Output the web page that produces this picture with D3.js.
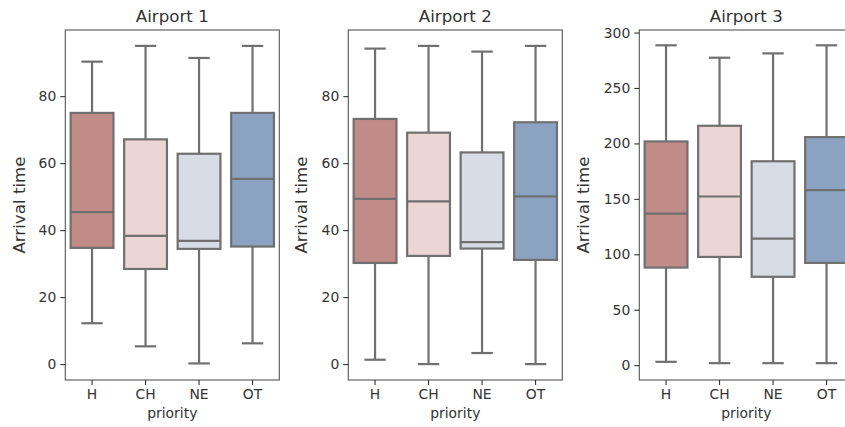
<!DOCTYPE html>
<html><head><meta charset="utf-8">
<script src="https://cdn.jsdelivr.net/npm/d3@7"></script>
<style>body{margin:0;background:#fff}svg{display:block}text{font-family:"DejaVu Sans",sans-serif;fill:#333}</style>
</head><body><svg id="c" width="845" height="427"></svg>
<script>
const categories = ["H","CH","NE","OT"];
const titles = ["Airport 1","Airport 2","Airport 3"];
const colors = ["#c18b87","#ebd5d5","#d8dce4","#8ba3c1"];
// five-number summaries per category: [whisker low, Q1, median, Q3, whisker high]
const airport1 = [[12.2,34.7,45.4,75,90.3],[5.3,28.4,38.3,67.1,95],[0.2,34.4,36.8,62.8,91.4],[6.2,35.1,55.3,75,95]];
const airport2 = [[1.3,30.2,49.3,73.2,94.2],[0,32.3,48.6,69.1,95],[3.3,34.5,36.4,63.2,93.3],[0,31.1,50.1,72.2,95]];
const airport3 = [[3,88,136.6,201.8,288.5],[1.8,97.6,152.1,215.9,277.3],[1.8,79.7,114.1,183.9,281.2],[1.8,92.2,157.8,205.7,288.5]];
const yTicks1 = [0,20,40,60,80];
const yTicks2 = [0,20,40,60,80];
const yTicks3 = [0,50,100,150,200,250,300];
const domains = [[-4.75,99.75],[-4.75,99.75],[-13.4,302.3]];

const data = [airport1, airport2, airport3];
const ticksAll = [yTicks1, yTicks2, yTicks3];
const lefts = [65.3, 348.3, 639.3];
const ylabelX = [19, 301, 583];
const W = 214, plotTop = 30, plotBottom = 380;
const lineCol = "#707070";
const svg = d3.select("#c");

data.forEach((stats, p) => {
  const g = svg.append("g").attr("transform", `translate(${lefts[p]},0)`);
  const x = d3.scaleBand().domain(categories).range([0, W]);
  const y = d3.scaleLinear().domain(domains[p]).range([plotBottom, plotTop]);
  const bw = x.bandwidth() * 0.8;

  stats.forEach((s, i) => {
    const cx = x(categories[i]) + x.bandwidth() / 2;
    const bg = g.append("g");
    bg.append("line").attr("x1", cx).attr("x2", cx).attr("y1", y(s[0])).attr("y2", y(s[1]))
      .attr("stroke", lineCol).attr("stroke-width", 2.2);
    bg.append("line").attr("x1", cx).attr("x2", cx).attr("y1", y(s[3])).attr("y2", y(s[4]))
      .attr("stroke", lineCol).attr("stroke-width", 2.2);
    [s[0], s[4]].forEach(v => bg.append("line").attr("x1", cx - bw / 4).attr("x2", cx + bw / 4)
      .attr("y1", y(v)).attr("y2", y(v)).attr("stroke", lineCol).attr("stroke-width", 2.2));
    bg.append("rect").attr("x", cx - bw / 2).attr("width", bw)
      .attr("y", y(s[3])).attr("height", y(s[1]) - y(s[3]))
      .attr("fill", colors[i]).attr("stroke", lineCol).attr("stroke-width", 2.2);
    bg.append("line").attr("x1", cx - bw / 2).attr("x2", cx + bw / 2)
      .attr("y1", y(s[2])).attr("y2", y(s[2])).attr("stroke", lineCol).attr("stroke-width", 2.2);
  });

  g.append("rect").attr("x", 0).attr("y", plotTop).attr("width", W).attr("height", plotBottom - plotTop)
    .attr("fill", "none").attr("stroke", "#555").attr("stroke-width", 1.1);

  const ya = g.append("g").call(d3.axisLeft(y).tickValues(ticksAll[p]).tickSize(5).tickPadding(4));
  ya.select(".domain").remove();
  ya.selectAll("line").attr("stroke", "#333").attr("stroke-width", 1.1);
  ya.selectAll("text").style("font-size", "13.9px").attr("fill", "#333").style("font-family", "DejaVu Sans");

  const xa = g.append("g").attr("transform", `translate(0,${plotBottom})`)
    .call(d3.axisBottom(x).tickSize(5).tickPadding(4));
  xa.select(".domain").remove();
  xa.selectAll("line").attr("stroke", "#333").attr("stroke-width", 1.1);
  xa.selectAll("text").style("font-size", "13.9px").attr("fill", "#333").style("font-family", "DejaVu Sans");

  g.append("text").attr("x", W / 2).attr("y", 418).attr("text-anchor", "middle")
    .style("font-size", "13.9px").text("priority");
  g.append("text").attr("x", W / 2).attr("y", 21.5).attr("text-anchor", "middle")
    .style("font-size", "16.7px").text(titles[p]);
  g.append("text").attr("transform", `translate(${ylabelX[p] - lefts[p] + 6},${(plotTop + plotBottom) / 2}) rotate(-90)`)
    .attr("text-anchor", "middle").style("font-size", "16.7px").text("Arrival time");
});
</script></body></html>
